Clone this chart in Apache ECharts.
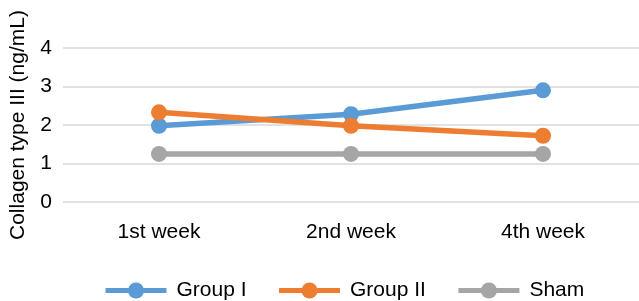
<!DOCTYPE html>
<html>
<head>
<meta charset="utf-8">
<title>Collagen type III</title>
<script src="https://cdn.jsdelivr.net/npm/echarts@6/dist/echarts.min.js"></script>
<style>
  html, body { margin: 0; padding: 0; background: #fff; }
  #chart { width: 639px; height: 301px; }
</style>
</head>
<body>
<div id="chart"></div>
<script>
  // data
  const weeks = ['1st week', '2nd week', '4th week'];
  const groupI = [1.98, 2.28, 2.9];
  const groupII = [2.33, 1.98, 1.72];
  const sham = [1.25, 1.25, 1.25];
  const yTicks = [0, 4, 1]; // min, max, step

  const chart = echarts.init(document.getElementById('chart'));

  const font = 'Liberation Sans, Arial, sans-serif';

  function lineSeries(name, data, color) {
    return {
      name: name,
      type: 'line',
      data: data,
      symbol: 'circle',
      symbolSize: 16,
      lineStyle: { color: color, width: 5.5 },
      itemStyle: { color: color },
      z: name === 'Sham' ? 1 : 2
    };
  }

  const option = {
    animation: false,
    textStyle: { fontFamily: font },
    grid: { left: 58, right: -5, top: 48, height: 154 },
    legend: {
      top: 275,
      left: 98,
      itemWidth: 61,
      itemHeight: 20,
      itemGap: 30,
      lineStyle: { width: 5 },
      textStyle: { fontSize: 21, color: '#000', fontFamily: font, padding: [0, 0, 0, 5] },
      data: ['Group I', 'Group II', 'Sham']
    },
    xAxis: {
      type: 'category',
      data: weeks,
      boundaryGap: true,
      axisLine: { show: false },
      axisTick: { show: false },
      axisLabel: { fontSize: 21, color: '#000', margin: 20, fontFamily: font }
    },
    yAxis: {
      type: 'value',
      min: yTicks[0],
      max: yTicks[1],
      interval: yTicks[2],
      name: 'Collagen type III (ng/mL)',
      nameLocation: 'middle',
      nameGap: 34,
      nameTextStyle: { fontSize: 21, color: '#000', fontFamily: font },
      axisLine: { show: false },
      axisTick: { show: false },
      axisLabel: { fontSize: 21, color: '#000', margin: 11, fontFamily: font },
      splitLine: { lineStyle: { color: '#d9d9d9', width: 1.5 } }
    },
    series: [
      lineSeries('Group I', groupI, '#5b9bd5'),
      lineSeries('Group II', groupII, '#ed7d31'),
      lineSeries('Sham', sham, '#a5a5a5')
    ]
  };

  chart.setOption(option);
</script>
</body>
</html>
